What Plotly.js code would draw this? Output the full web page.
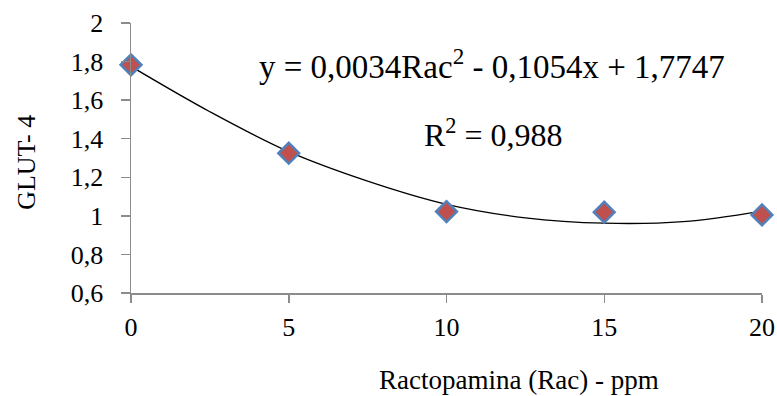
<!DOCTYPE html>
<html>
<head>
<meta charset="utf-8">
<script src="https://cdn.plot.ly/plotly-3.0.1.min.js"></script>
<style>html,body{margin:0;padding:0;background:#fff;}#chart{width:777px;height:396px;}</style>
</head>
<body>
<div id="chart"></div>
<script>
// Measured data
var racDoses = [0, 5, 10, 15, 20];
var glut4 = [1.783, 1.325, 1.022, 1.019, 1.005];
// Trendline
var trendX = [0, 2.5, 5, 7.5, 10, 12.5, 15, 17.5, 20];
var trendY = [1.775, 1.54, 1.333, 1.18, 1.06, 0.99, 0.962, 0.97, 1.025];
// Tick labels
var xTickVals = [0, 5, 10, 15, 20];
var xTickText = ["0", "5", "10", "15", "20"];
var yTickVals = [0.6, 0.8, 1.0, 1.2, 1.4, 1.6, 1.8, 2.0];
var yTickText = ["0,6", "0,8", "1", "1,2", "1,4", "1,6", "1,8", "2"];

var font = "Times New Roman, Liberation Serif, DejaVu Serif, serif";
var axisGray = "#8c8c8c";

var traces = [
  {x: trendX, y: trendY, type: "scatter", mode: "lines",
   line: {color: "#000000", width: 1.3, shape: "spline"}, hoverinfo: "skip", cliponaxis: false},
  {x: racDoses, y: glut4, type: "scatter", mode: "markers",
   marker: {symbol: "diamond", size: 16, color: "#C0504D", line: {color: "#4F81BD", width: 2.5}},
   cliponaxis: false}
];

var layout = {
  width: 777, height: 396,
  margin: {l: 131, r: 15, t: 23, b: 103},
  paper_bgcolor: "#ffffff", plot_bgcolor: "#ffffff",
  showlegend: false,
  font: {family: font, color: "#000000", size: 25},
  xaxis: {range: [0, 20], tickvals: xTickVals, ticktext: xTickText,
    showgrid: false, zeroline: false, showline: true, linecolor: axisGray, linewidth: 1.5,
    ticks: "outside", ticklen: 8, tickcolor: axisGray, tickwidth: 1.5,
    tickfont: {family: font, size: 26, color: "#000"}, ticklabelstandoff: 2},
  yaxis: {range: [0.6, 2], tickvals: yTickVals, ticktext: yTickText,
    showgrid: false, zeroline: false, showline: true, linecolor: axisGray, linewidth: 1.5,
    ticks: "outside", ticklen: 9, tickcolor: axisGray, tickwidth: 1.5,
    tickfont: {family: font, size: 26, color: "#000"}, ticklabelstandoff: 12},
  annotations: [
    {xref: "paper", yref: "paper", x: 0.615, y: -0.323, text: "Ractopamina (Rac) - ppm",
     showarrow: false, font: {family: font, size: 27, color: "#000"}, xanchor: "center", yanchor: "middle"},
    {xref: "paper", yref: "paper", x: -0.166, y: 0.483, text: "GLUT- 4", textangle: -90,
     showarrow: false, font: {family: font, size: 26, color: "#000"}, xanchor: "center", yanchor: "middle"},
    {xref: "x", yref: "y", x: 11.43, y: 1.789, text: "y = 0,0034Rac<sup>2</sup> - 0,1054x + 1,7747",
     showarrow: false, font: {family: font, size: 33, color: "#000"}, xanchor: "center", yanchor: "middle"},
    {xref: "x", yref: "y", x: 11.49, y: 1.431, text: "R<sup>2</sup> = 0,988",
     showarrow: false, font: {family: font, size: 32, color: "#000"}, xanchor: "center", yanchor: "middle"}
  ]
};

Plotly.newPlot("chart", traces, layout, {displayModeBar: false, staticPlot: true});
</script>
</body>
</html>
